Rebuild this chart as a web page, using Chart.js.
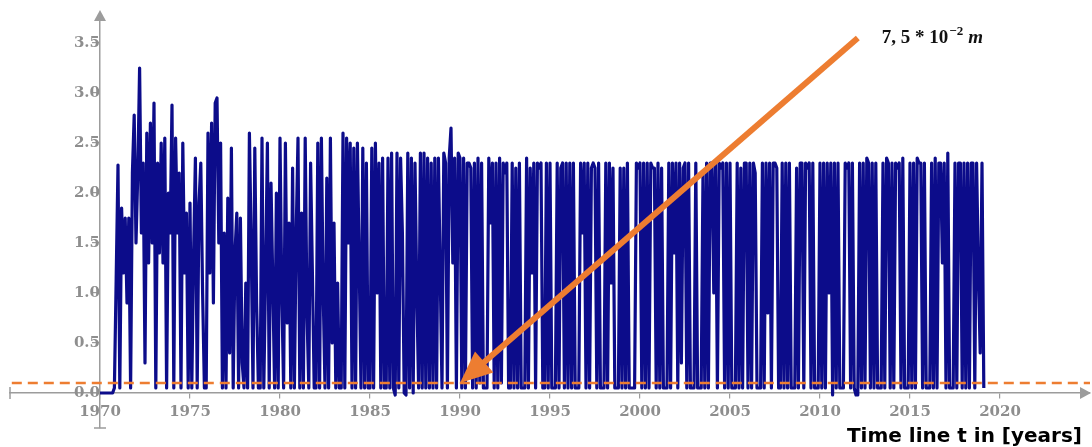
<!DOCTYPE html>
<html>
<head>
<meta charset="UTF-8">
<title>Time line</title>
<style>
  body { margin: 0; background: #fff; }
  #wrap { width: 1092px; height: 447px; }
</style>
</head>
<body>
<div id="wrap"><canvas id="myChart" width="1092" height="447"></canvas></div>
<script src="https://cdn.jsdelivr.net/npm/chart.js"></script>
<script>
// ticks
const xTicks = [1970, 1975, 1980, 1985, 1990, 1995, 2000, 2005, 2010, 2015, 2020];
const yTicks = [0, 0.5, 1.0, 1.5, 2.0, 2.5, 3.0, 3.5];

// threshold 7,5 * 10^-2 m (drawn where the picture has it)
const threshold = 0.1;
const thresholdSpan = [1965.1, 2025];

// water level, ten readings a year
const y1970 = [0, 0, 0, 0, 0, 0, 0, 0, 0.05, 1.15];
const y1971 = [2.28, 0.05, 1.85, 1.2, 1.75, 0.9, 1.75, 0.05, 2.2, 2.78];
const y1972 = [1.5, 2.2, 3.25, 1.6, 2.3, 0.3, 2.6, 1.3, 2.7, 1.5];
const y1973 = [2.9, 0.05, 2.3, 1.4, 2.5, 1.3, 2.55, 0.05, 2.0, 1.6];
const y1974 = [2.88, 0.05, 2.55, 1.6, 2.2, 0.05, 2.5, 1.2, 1.8, 0.05];
const y1975 = [1.9, 0.05, 1.4, 2.35, 0.05, 1.9, 2.3, 1.0, 0.05, 0.05];
const y1976 = [2.6, 1.2, 2.7, 0.9, 2.9, 2.95, 1.5, 2.5, 0.05, 1.6];
const y1977 = [0.05, 1.95, 0.4, 2.45, 0.05, 1.4, 1.8, 0.05, 1.75, 0.3];
const y1978 = [0.05, 1.1, 0.05, 2.6, 1.5, 0.05, 2.45, 0.9, 0.05, 0.05];
const y1979 = [2.55, 0.05, 1.2, 2.5, 0.05, 2.1, 1.1, 0.05, 2.0, 0.05];
const y1980 = [2.55, 1.0, 0.05, 2.5, 0.7, 1.7, 0.05, 2.25, 0.05, 1.6];
const y1981 = [2.55, 0.05, 1.8, 0.05, 2.55, 0.8, 0.05, 2.3, 1.2, 0.05];
const y1982 = [0.05, 2.5, 0.05, 2.55, 1.0, 0.05, 2.15, 0.05, 2.55, 0.5];
const y1983 = [1.7, 0.05, 1.1, 0.05, 0.05, 2.6, 0.05, 2.55, 1.5, 2.5];
const y1984 = [0.05, 2.45, 0.05, 2.5, 1.3, 0.05, 2.45, 0.05, 2.3, 0.05];
const y1985 = [0.05, 2.45, 0.05, 2.5, 1.0, 2.3, 0.05, 2.35, 0.05, 0.05];
const y1986 = [2.35, 0.05, 2.4, 0.05, -0.02, 2.4, 0.05, 2.35, 1.6, 0.0];
const y1987 = [-0.02, 2.4, 0.05, 2.35, 0.0, 2.3, 1.0, 0.05, 2.4, 0.05];
const y1988 = [2.4, 0.05, 2.35, 0.05, 2.3, 0.05, 2.35, 0.05, 2.35, 1.2];
const y1989 = [0.05, 2.4, 2.3, 0.05, 2.35, 2.65, 1.3, 2.35, 0.05, 2.4];
const y1990 = [2.35, 0.05, 2.35, 0.05, 2.3, 2.3, 2.25, 0.05, 2.3, 0.05];
const y1991 = [2.35, 0.1, 2.3, 0.05, 0.05, 0.05, 2.35, 1.7, 2.3, 0.05];
const y1992 = [2.3, 0.05, 2.35, 0.1, 2.3, 2.2, 2.3, 0.05, 0.05, 2.3];
const y1993 = [0.05, 2.25, 0.05, 2.3, 0.05, 0.05, 0.05, 2.35, 0.05, 2.25];
const y1994 = [1.2, 2.3, 0.05, 2.3, 2.25, 2.3, 0.05, 0.05, 2.3, 0.05];
const y1995 = [2.3, 0.05, 0.05, 0.05, 2.3, 0.05, 2.25, 2.3, 0.05, 2.3];
const y1996 = [0.05, 2.3, 0.05, 2.3, 0.05, 0.05, 0.05, 2.3, 1.6, 2.3];
const y1997 = [0.05, 2.3, 0.05, 2.25, 2.3, 2.25, 0.05, 2.3, 0.05, 0.05];
const y1998 = [0.05, 2.3, 0.05, 2.3, 1.1, 2.25, 0.05, 0.05, 0.05, 2.25];
const y1999 = [0.05, 2.25, 0.05, 2.3, 0.05, 0.05, 0.05, 0.05, 2.3, 2.25];
const y2000 = [2.3, 0.05, 2.3, 0.05, 2.3, 0.05, 2.3, 2.25, 2.25, 0.05];
const y2001 = [2.3, 0.05, 2.25, 0.05, 0.05, 0.05, 2.3, 0.05, 2.3, 1.4];
const y2002 = [2.3, 0.05, 2.3, 0.3, 2.25, 2.3, 0.05, 2.3, 0.05, 0.05];
const y2003 = [0.05, 2.3, 0.05, 0.05, 0.05, 2.2, 0.05, 2.3, 0.05, 2.3];
const y2004 = [2.3, 1.0, 2.3, 0.05, 2.3, 2.25, 2.3, 0.05, 2.3, 0.05];
const y2005 = [2.3, 0.05, 0.05, 0.05, 2.3, 0.05, 2.25, 0.05, 2.3, 2.3];
const y2006 = [0.05, 2.3, 0.05, 2.3, 2.2, 0.05, 0.05, 0.05, 2.3, 0.05];
const y2007 = [2.3, 0.8, 2.3, 0.05, 2.3, 2.3, 2.25, 0.05, 0.05, 2.3];
const y2008 = [0.05, 2.3, 0.05, 2.3, 0.05, 0.05, 0.05, 2.25, 0.05, 2.3];
const y2009 = [2.3, 0.05, 2.3, 2.25, 2.3, 0.05, 2.3, 0.05, 0.05, 0.05];
const y2010 = [2.3, 0.05, 2.3, 0.05, 2.3, 1.0, 2.3, -0.02, 2.3, 0.05];
const y2011 = [2.3, 0.05, 0.05, 0.05, 2.3, 2.25, 2.3, 0.05, 2.3, 0.05];
const y2012 = [-0.02, -0.02, 2.3, 0.05, 2.3, 0.05, 2.35, 2.3, 0.05, 2.3];
const y2013 = [0.05, 2.3, 0.05, 0.05, 0.05, 2.3, 0.05, 2.35, 2.3, 0.05];
const y2014 = [2.3, 0.05, 2.3, 2.25, 2.3, 0.05, 2.35, 0.05, 0.05, 0.05];
const y2015 = [2.3, 0.05, 2.3, 0.05, 2.35, 2.3, 2.3, 0.05, 2.3, 0.05];
const y2016 = [0.05, 0.05, 2.3, 0.05, 2.35, 0.05, 2.3, 2.3, 1.3, 2.3];
const y2017 = [0.05, 2.4, 0.05, 0.05, 0.05, 2.3, 0.05, 2.3, 2.3, 0.05];
const y2018 = [2.3, 0.05, 2.3, 0.05, 2.3, 2.3, 0.05, 2.3, 1.2, 0.4];
const y2019 = [2.3, 0.05];

const yearRows = [
  [1970, y1970], [1971, y1971], [1972, y1972], [1973, y1973], [1974, y1974],
  [1975, y1975], [1976, y1976], [1977, y1977], [1978, y1978], [1979, y1979],
  [1980, y1980], [1981, y1981], [1982, y1982], [1983, y1983], [1984, y1984],
  [1985, y1985], [1986, y1986], [1987, y1987], [1988, y1988], [1989, y1989],
  [1990, y1990], [1991, y1991], [1992, y1992], [1993, y1993], [1994, y1994],
  [1995, y1995], [1996, y1996], [1997, y1997], [1998, y1998], [1999, y1999],
  [2000, y2000], [2001, y2001], [2002, y2002], [2003, y2003], [2004, y2004],
  [2005, y2005], [2006, y2006], [2007, y2007], [2008, y2008], [2009, y2009],
  [2010, y2010], [2011, y2011], [2012, y2012], [2013, y2013], [2014, y2014],
  [2015, y2015], [2016, y2016], [2017, y2017], [2018, y2018], [2019, y2019]
];

// annotation arrow, in data units
const arrowFrom = { x: 2012.1, y: 3.55 };
const arrowTo = { x: 1990, y: 0.1 };

const levelPoints = [];
yearRows.forEach(function (row) {
  row[1].forEach(function (v, i) {
    levelPoints.push({ x: row[0] + i / 10, y: v });
  });
});

const thresholdPoints = thresholdSpan.map(function (x) {
  return { x: x, y: threshold };
});

const axisGray = '#9c9c9c';
const orange = '#ED7D31';

// arrows, end caps, annotation and axis title
const extras = {
  id: 'extras',
  beforeDatasetsDraw(chart) {
    const ctx = chart.ctx;
    const a = chart.chartArea;
    const xs = chart.scales.x, ys = chart.scales.y;
    const x0 = xs.getPixelForValue(1970);
    const y0 = ys.getPixelForValue(0);
    ctx.save();
    ctx.fillStyle = axisGray;
    ctx.strokeStyle = axisGray;
    ctx.lineWidth = 1.5;
    // y arrow
    ctx.beginPath();
    ctx.moveTo(x0, a.top - 3);
    ctx.lineTo(x0 - 6, a.top + 8);
    ctx.lineTo(x0 + 6, a.top + 8);
    ctx.closePath();
    ctx.fill();
    // x arrow
    ctx.beginPath();
    ctx.moveTo(a.right + 1, y0);
    ctx.lineTo(a.right - 10, y0 - 6);
    ctx.lineTo(a.right - 10, y0 + 6);
    ctx.closePath();
    ctx.fill();
    // end caps
    ctx.beginPath();
    ctx.moveTo(a.left, y0 - 6);
    ctx.lineTo(a.left, y0 + 6);
    ctx.moveTo(x0 - 6, a.bottom);
    ctx.lineTo(x0 + 6, a.bottom);
    ctx.stroke();
    ctx.restore();
  },
  afterDatasetsDraw(chart) {
    const ctx = chart.ctx;
    const xs = chart.scales.x, ys = chart.scales.y;
    const fx = xs.getPixelForValue(arrowFrom.x), fy = ys.getPixelForValue(arrowFrom.y);
    const tx = xs.getPixelForValue(arrowTo.x), ty = ys.getPixelForValue(arrowTo.y);
    const ang = Math.atan2(ty - fy, tx - fx);
    const head = 32, half = 14;
    const bx = tx - head * Math.cos(ang), by = ty - head * Math.sin(ang);
    ctx.save();
    ctx.strokeStyle = orange;
    ctx.fillStyle = orange;
    ctx.lineWidth = 6;
    ctx.beginPath();
    ctx.moveTo(fx, fy);
    ctx.lineTo(bx + 4 * Math.cos(ang), by + 4 * Math.sin(ang));
    ctx.stroke();
    ctx.beginPath();
    ctx.moveTo(tx, ty);
    ctx.lineTo(bx + half * Math.sin(ang), by - half * Math.cos(ang));
    ctx.lineTo(bx - half * Math.sin(ang), by + half * Math.cos(ang));
    ctx.closePath();
    ctx.fill();

    // 7,5 * 10^-2 m
    ctx.fillStyle = '#111';
    ctx.textBaseline = 'alphabetic';
    let lx = fx + 24;
    const base = fy + 5;
    ctx.font = 'bold 19px "Liberation Serif"';
    ctx.fillText('7, 5 * 10', lx, base);
    lx += ctx.measureText('7, 5 * 10').width + 1;
    ctx.font = 'bold 13px "Liberation Serif"';
    ctx.fillText('\u22122', lx, base - 8);
    lx += ctx.measureText('\u22122').width + 5;
    ctx.font = 'italic bold 19px "Liberation Serif"';
    ctx.fillText('m', lx, base);

    // axis title
    ctx.font = 'bold 20px "DejaVu Sans"';
    ctx.textAlign = 'right';
    ctx.fillStyle = '#000';
    ctx.fillText('Time line t in [years]', 1082, 442);
    ctx.restore();
  }
};

const config = {
  type: 'scatter',
  data: {
    datasets: [
      {
        label: 'threshold',
        data: thresholdPoints,
        showLine: true,
        borderColor: orange,
        borderWidth: 2.5,
        borderDash: [10, 6],
        pointRadius: 0
      },
      {
        label: 'level',
        data: levelPoints,
        showLine: true,
        borderColor: '#0c0c8a',
        borderWidth: 3.2,
        borderJoinStyle: 'round',
        pointRadius: 0,
        tension: 0
      }
    ]
  },
  options: {
    responsive: false,
    animation: false,
    layout: { padding: { left: 10, right: 2, top: 13, bottom: 19 } },
    plugins: {
      legend: { display: false },
      tooltip: { enabled: false }
    },
    scales: {
      x: {
        type: 'linear',
        min: 1965,
        max: 2025,
        position: { y: 0 },
        afterBuildTicks: function (scale) {
          scale.ticks = xTicks.map(function (v) { return { value: v }; });
        },
        ticks: {
          color: '#8e8e8e',
          font: { family: 'DejaVu Serif', size: 15, weight: 'bold' },
          padding: 5,
          maxRotation: 0,
          autoSkip: false,
          callback: function (v) { return String(v); }
        },
        grid: { drawOnChartArea: false, drawTicks: true, tickLength: 5, color: axisGray, lineWidth: 1.2 },
        border: { display: true, color: axisGray, width: 1.5 }
      },
      y: {
        type: 'linear',
        min: -0.35,
        max: 3.8,
        position: { x: 1970 },
        afterBuildTicks: function (scale) {
          scale.ticks = yTicks.map(function (v) { return { value: v }; });
        },
        ticks: {
          color: '#8e8e8e',
          font: { family: 'DejaVu Serif', size: 15, weight: 'bold' },
          padding: 3,
          autoSkip: false,
          callback: function (v) { return v.toFixed(1); }
        },
        grid: { drawOnChartArea: false, drawTicks: true, tickLength: 7, color: axisGray, lineWidth: 1.2 },
        border: { display: true, color: axisGray, width: 1.5 }
      }
    }
  },
  plugins: [extras]
};

const myChart = new Chart(document.getElementById('myChart'), config);
</script>
</body>
</html>
